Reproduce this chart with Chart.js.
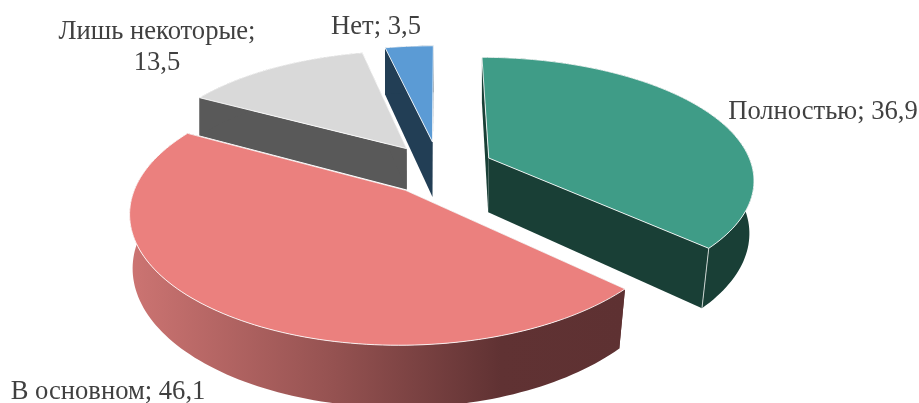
<!DOCTYPE html>
<html>
<head>
<meta charset="utf-8">
<script src="https://cdn.jsdelivr.net/npm/chart.js@4/dist/chart.umd.min.js"></script>
<style>
    html, body { margin: 0; padding: 0; background: #fff; }
    #wrap { width: 919px; height: 403px; }
</style>
</head>
<body>
<div id="wrap"><canvas id="chart" width="919" height="403"></canvas></div>
<script>
const categories = ["Полностью", "В основном", "Лишь некоторые", "Нет"];
const values = [36.9, 46.1, 13.5, 3.5];

const topColors = ["#3F9C87", "#EB807E", "#D9D9D9", "#5B9BD5"];
const wallColors = ["#193F36", "#5F3132", "#595959", "#223E55"];
const explode = [25, 24, 26, 28];
const depths = [55, 53, 42, 57];
const nudges = [[-1, -2], [-3, 0], [0, -1], [-1, -1]];
const drawOrder = [2, 3, 0, 1];

// perspective of the pie plane
const view = { cx: 440, cy: 170, a: 264, b: 121, px: 0.16, py: 0.17, lean: 0.021 };

const labelSpots = [
    { lines: ["Полностью; 36,9"], x: 823, y: 119 },
    { lines: ["В основном; 46,1"], x: 108, y: 399 },
    { lines: ["Лишь некоторые;", "13,5"], x: 157, y: 39 },
    { lines: ["Нет; 3,5"], x: 376, y: 34 }
];

function project(u, v, depth, nudge) {
    const x = view.cx + view.a * u / (1 - view.px * v);
    const y = view.cy + view.b * v / (1 - view.py * v);
    if (!depth) return [x + nudge[0], y + nudge[1]];
    // sides lean in towards the centre, less on the left
    let lean = view.lean * Math.max(0, v + 0.6);
    if (x < view.cx) lean *= 0.5;
    return [x - (x - view.cx) * lean + nudge[0], y + depth * (1 + 0.15 * v) + nudge[1]];
}

function slicePoints(el) {
    const r = el.outerRadius;
    const mid = (el.startAngle + el.endAngle) / 2;
    const w = el.options.offset / r;
    const ox = Math.cos(mid) * w;
    const oy = Math.sin(mid) * w;
    const arc = [];
    const steps = Math.max(8, Math.round((el.endAngle - el.startAngle) * 40));
    for (let k = 0; k <= steps; k++) {
        const t = el.startAngle + (el.endAngle - el.startAngle) * k / steps;
        arc.push([ox + Math.cos(t), oy + Math.sin(t)]);
    }
    return { apex: [ox, oy], arc };
}

function fillPath(ctx, pts, color) {
    ctx.beginPath();
    pts.forEach((p, n) => n ? ctx.lineTo(p[0], p[1]) : ctx.moveTo(p[0], p[1]));
    ctx.closePath();
    ctx.fillStyle = color;
    ctx.fill();
}

const pie3d = {
    id: "pie3d",
    beforeDatasetDraw(chart) {
        const ctx = chart.ctx;
        const els = chart.getDatasetMeta(0).data;
        ctx.save();
        ctx.lineJoin = "round";
        drawOrder.forEach((i) => {
            const { apex, arc } = slicePoints(els[i]);
            const d = depths[i];
            const n = nudges[i];
            const first = arc[0], last = arc[arc.length - 1];
            const apexTop = project(apex[0], apex[1], 0, n);
            const apexLow = project(apex[0], apex[1], d, n);

            fillPath(ctx, [apexTop, project(first[0], first[1], 0, n), project(first[0], first[1], d, n), apexLow], wallColors[i]);
            fillPath(ctx, [apexTop, project(last[0], last[1], 0, n), project(last[0], last[1], d, n), apexLow], wallColors[i]);

            let side = wallColors[i];
            if (i === 1) {
                side = ctx.createLinearGradient(131, 0, 624, 0);
                side.addColorStop(0, "#CC7472");
                side.addColorStop(0.41, "#955251");
                side.addColorStop(0.75, "#603233");
                side.addColorStop(1, "#5E3132");
            }
            const upper = arc.map((p) => project(p[0], p[1], 0, n));
            const lower = arc.map((p) => project(p[0], p[1], d, n)).reverse();
            fillPath(ctx, upper.concat(lower), side);

            if (i === 0) {
                const a = project(last[0], last[1], 0, n), b = project(last[0], last[1], d, n);
                ctx.beginPath();
                ctx.moveTo(a[0], a[1]);
                ctx.lineTo(b[0], b[1]);
                ctx.strokeStyle = "#C9D2CF";
                ctx.lineWidth = 1;
                ctx.stroke();
            }

            fillPath(ctx, [apexTop].concat(upper), topColors[i]);
            ctx.strokeStyle = "rgba(255,255,255,0.85)";
            ctx.lineWidth = 1;
            ctx.stroke();
        });
        ctx.restore();
        return false;
    },
    afterDraw(chart) {
        const ctx = chart.ctx;
        ctx.save();
        ctx.font = "26.6px 'Liberation Serif'";
        ctx.fillStyle = "#404040";
        ctx.textAlign = "center";
        ctx.textBaseline = "alphabetic";
        labelSpots.forEach((spot) => {
            spot.lines.forEach((line, n) => ctx.fillText(line, spot.x, spot.y + n * 31));
        });
        ctx.restore();
    }
};

new Chart(document.getElementById("chart"), {
    type: "pie",
    data: {
        labels: categories,
        datasets: [{
            data: values,
            backgroundColor: topColors,
            offset: explode,
            borderWidth: 0
        }]
    },
    options: {
        responsive: false,
        animation: false,
        radius: 120,
        plugins: { legend: { display: false }, tooltip: { enabled: false } }
    },
    plugins: [pie3d]
});
</script>
</body>
</html>
